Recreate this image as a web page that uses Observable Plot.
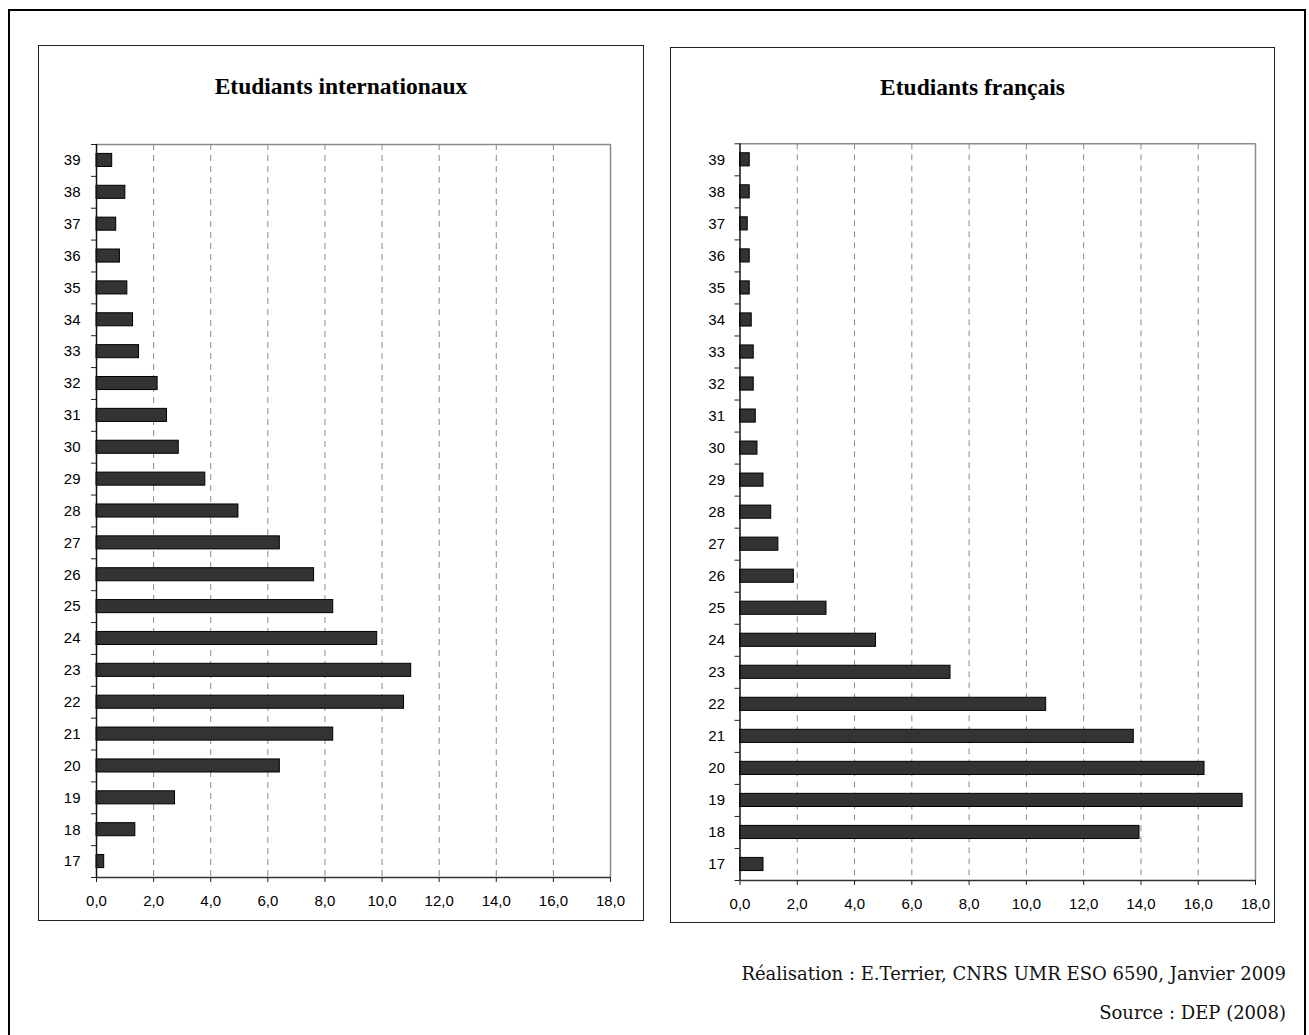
<!DOCTYPE html>
<html>
<head>
<meta charset="utf-8">
<script src="https://cdn.jsdelivr.net/npm/d3@7"></script>
<script src="https://cdn.jsdelivr.net/npm/@observablehq/plot@0.6"></script>
<style>
  html, body { margin: 0; padding: 0; background: #fff; }
  #page { position: relative; width: 1309px; height: 1035px; overflow: hidden; background: #fff; }
  .frame { position: absolute; box-sizing: border-box; }
  .title { position: absolute; font-family: "Liberation Serif", "Times New Roman", serif; font-weight: bold; font-size: 23.5px; color: #000; text-align: center; }
  .foot { position: absolute; right: 23px; font-family: "DejaVu Serif", "Liberation Serif", serif; font-size: 18px; color: #111; white-space: nowrap; }
  .plotwrap { position: absolute; }
</style>
</head>
<body>
<div id="page">
  <div class="frame" style="left:8px;top:9px;width:1298px;height:1060px;border:2px solid #000;"></div>
  <div class="frame" style="left:38px;top:45px;width:606px;height:876px;border:1px solid #222;"></div>
  <div class="frame" style="left:670px;top:47px;width:605px;height:876px;border:1px solid #222;"></div>
  <div class="title" style="left:38px;width:606px;top:73px;">Etudiants internationaux</div>
  <div class="title" style="left:670px;width:605px;top:74px;">Etudiants français</div>
  <div class="plotwrap" id="left" style="left:38px;top:120px;"></div>
  <div class="plotwrap" id="right" style="left:670px;top:120px;"></div>
  <div class="foot" style="top:963px;">Réalisation : E.Terrier, CNRS UMR ESO 6590, Janvier 2009</div>
  <div class="foot" style="top:1002px;">Source : DEP (2008)</div>
</div>
<script>
// Ages (categories)
const ages = [17, 18, 19, 20, 21, 22, 23, 24, 25, 26, 27, 28, 29, 30, 31, 32, 33, 34, 35, 36, 37, 38, 39];
// Share of students (%) by age — international students
const internationaux = [0.27, 1.36, 2.75, 6.42, 8.29, 10.77, 11.02, 9.83, 8.29, 7.62, 6.42, 4.97, 3.81, 2.88, 2.47, 2.14, 1.49, 1.28, 1.08, 0.82, 0.69, 1.01, 0.55];
// Share of students (%) by age — French students
const francais = [0.82, 13.95, 17.55, 16.22, 13.75, 10.69, 7.35, 4.75, 3.02, 1.88, 1.34, 1.09, 0.82, 0.61, 0.55, 0.48, 0.48, 0.41, 0.34, 0.34, 0.27, 0.34, 0.34];
// X tick values
const xTicks = [0, 2, 4, 6, 8, 10, 12, 14, 16, 18];
const gridTicks = [2, 4, 6, 8, 10, 12, 14, 16];

const fmt = d => d.toFixed(1).replace(".", ",");
const yMin = ages[0] - 0.5, yMax = ages[ages.length - 1] + 0.5;
const bounds = ages.map(a => a - 0.5).concat([yMax]);
const half = 0.205;

function chart(values, m) {
  const data = ages.map((a, i) => ({age: a, v: values[i]}));
  return Plot.plot({
    width: m.width,
    height: 800,
    marginLeft: m.left,
    marginRight: m.right,
    marginTop: m.top,
    marginBottom: m.bottom,
    style: {fontFamily: "'Liberation Sans', Arial, sans-serif", fontSize: "15px", background: "transparent", overflow: "visible", maxWidth: "none", color: "#000"},
    x: {domain: [0, 18]},
    y: {domain: [yMin, yMax]},
    marks: [
      Plot.ruleX(gridTicks, {stroke: "#8a8a8a", strokeDasharray: "6,5", strokeWidth: 1}),
      Plot.ruleY([yMax], {stroke: "#8a8a8a", strokeWidth: 1.5}),
      Plot.ruleX([18], {stroke: "#8a8a8a", strokeWidth: 1.5}),
      Plot.rect(data, {x1: 0, x2: "v", y1: d => d.age - half, y2: d => d.age + half, fill: "#333333", stroke: "#000", strokeWidth: 1}),
      Plot.ruleX([0], {stroke: "#111", strokeWidth: 1.5}),
      Plot.ruleY([yMin], {stroke: "#333", strokeWidth: 1.5}),
      Plot.axisX(xTicks, {tickFormat: fmt, tickSize: 5, tickPadding: 13, stroke: "#222", label: null, fill: "#000", fontSize: 15}),
      Plot.axisY(ages, {tickFormat: d => String(d), tickSize: 0, tickPadding: m.pad, label: null, fill: "#000", fontSize: 15}),
      Plot.axisY(bounds, {tickFormat: () => "", tickSize: 5, stroke: "#222", label: null})
    ]
  });
}

document.getElementById("left").appendChild(chart(internationaux, {width: 606, left: 58, right: 34, top: 24, bottom: 43, pad: 16}));
document.getElementById("right").appendChild(chart(francais, {width: 605, left: 69.5, right: 20, top: 23.3, bottom: 40, pad: 15}));
</script>
</body>
</html>
